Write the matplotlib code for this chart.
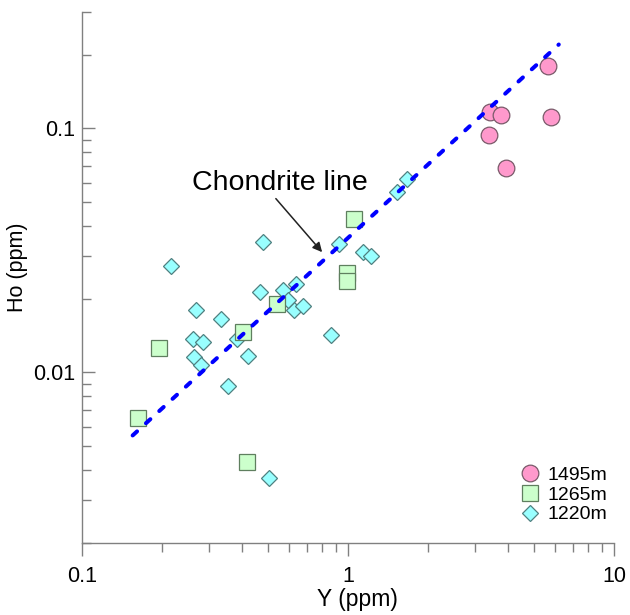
import matplotlib.pyplot as plt
from matplotlib.ticker import LogLocator, NullFormatter, FixedFormatter, FixedLocator

plt.rcParams['font.family'] = ['Liberation Sans', 'DejaVu Sans']
plt.rcParams['lines.scale_dashes'] = False

# Y (ppm) and Ho (ppm), per depth
y_1495 = [5.63, 5.78, 3.42, 3.75, 3.39, 3.92]
ho_1495 = [0.181, 0.111, 0.1166, 0.113, 0.0939, 0.069]

y_1265 = [0.195, 0.404, 0.542, 1.056, 0.994, 0.994, 0.163, 0.416]
ho_1265 = [0.0126, 0.0147, 0.0191, 0.0424, 0.0256, 0.0237, 0.0065, 0.0043]

y_1220 = [0.216, 0.477, 1.671, 1.524, 0.927, 1.139, 1.225, 0.467, 0.570, 0.638,
          0.626, 0.677, 0.268, 0.332, 0.262, 0.284, 0.382, 0.419, 0.264, 0.280,
          0.353, 0.861, 0.503, 0.596]
ho_1220 = [0.0273, 0.0342, 0.0622, 0.0548, 0.0335, 0.0311, 0.0300, 0.0213, 0.0218, 0.0231,
           0.0181, 0.0188, 0.0180, 0.0165, 0.0137, 0.0133, 0.0137, 0.0117, 0.0116, 0.0107,
           0.0088, 0.0142, 0.0037, 0.0199]

# chondrite Ho/Y ratio and the span of the reference line
chondrite_ratio = 0.0356
line_y = [0.155, 6.2]
line_ho = [chondrite_ratio * v for v in line_y]

fig = plt.figure(figsize=(6.3, 6.15), dpi=100)
ax = fig.add_axes([0.1302, 0.1171, 0.8444, 0.8634])
ax.set_xscale('log')
ax.set_yscale('log')

d, = ax.plot(y_1220, ho_1220, 'D', ms=8.4, mfc='#99ffff', mec='#4f8080', mew=0.9,
             ls='none', label='1220m', zorder=3)
s, = ax.plot(y_1265, ho_1265, 's', ms=12, mfc='#ccffcc', mec='#5f7f5f', mew=0.9,
             ls='none', label='1265m', zorder=4)
c, = ax.plot(y_1495, ho_1495, 'o', ms=12, mfc='#ff99cc', mec='#7a5a6a', mew=0.9,
             ls='none', label='1495m', zorder=5)
ax.plot(line_y, line_ho, color='#0000ff', lw=2.9, dashes=(4.3, 8.7),
        dash_capstyle='round', zorder=6)

ax.annotate('', xy=(0.812, 0.0305), xytext=(0.527, 0.0526),
            arrowprops=dict(arrowstyle='-|>', color='#222222', lw=1.1, mutation_scale=14))
ax.text(0.555, 0.0557, 'Chondrite line', ha='center', va='baseline', fontsize=20.5)

ax.set_xlim(0.1, 10)
ax.set_ylim(0.002, 0.3)

ax.xaxis.set_major_locator(FixedLocator([0.1, 1, 10]))
ax.xaxis.set_major_formatter(FixedFormatter(['0.1', '1', '10']))
ax.yaxis.set_major_locator(FixedLocator([0.01, 0.1]))
ax.yaxis.set_major_formatter(FixedFormatter(['0.01', '0.1']))
ax.xaxis.set_minor_locator(LogLocator(subs=range(2, 10)))
ax.yaxis.set_minor_locator(LogLocator(subs=range(2, 10)))
ax.xaxis.set_minor_formatter(NullFormatter())
ax.yaxis.set_minor_formatter(NullFormatter())

for side in ['top', 'right']:
    ax.spines[side].set_visible(False)
for side in ['left', 'bottom']:
    ax.spines[side].set_color('#808080')
    ax.spines[side].set_linewidth(1)

ax.tick_params(axis='x', which='both', direction='out', colors='#808080',
               labelcolor='black', labelsize=15.5, pad=7)
ax.tick_params(axis='y', which='both', direction='in', colors='#808080',
               labelcolor='black', labelsize=15.5, pad=5)
ax.tick_params(which='major', length=9.4, width=1)
ax.tick_params(which='minor', length=6.5, width=1)

ax.set_xlabel('Y (ppm)', fontsize=16.5, va='center')
ax.set_ylabel('Ho (ppm)', fontsize=15.5, va='center')
ax.xaxis.set_label_coords(0.517, -0.107)
ax.yaxis.set_label_coords(-0.122, 0.52)

ax.legend(handles=[c, s, d], loc='upper left', bbox_to_anchor=(0.825, 0.145),
          frameon=False, fontsize=14, handlelength=0.95, handletextpad=0.4,
          labelspacing=0.12, borderpad=0, borderaxespad=0, numpoints=1)

fig.savefig('out.png', dpi=100)
